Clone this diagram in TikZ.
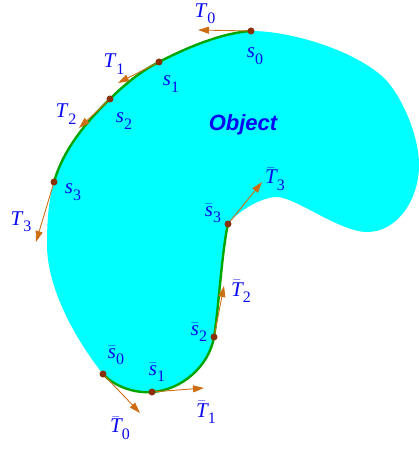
\documentclass[tikz,border=0pt]{standalone}
\usepackage{fontspec}
\setmainfont{Liberation Serif}
\newfontfamily\objfont{Liberation Sans}
\usetikzlibrary{arrows.meta}
\definecolor{objcyan}{RGB}{0,255,255}
\definecolor{curvegreen}{RGB}{0,165,0}
\definecolor{dotbrown}{RGB}{135,50,10}
\definecolor{tanorange}{RGB}{205,110,20}
\definecolor{labblue}{RGB}{10,10,240}
\newcommand{\symlab}[2]{\textit{#1}\raisebox{-0.3em}{\fontsize{16}{16}\selectfont #2}}
\newcommand{\barlab}[2]{$\bar{\hbox{\itshape #1}}$\raisebox{-0.3em}{\fontsize{16}{16}\selectfont #2}}
\tikzset{
  curve/.style={draw=curvegreen, line width=2.4pt, line cap=round},
  tangent/.style={-{Triangle[length=11pt,width=7pt]}, draw=tanorange, line width=0.9pt},
  pt/.style={circle, fill=dotbrown, inner sep=0pt, minimum size=7pt},
  lab/.style={text=labblue, font=\fontsize{21}{24}\selectfont, inner sep=0pt}
}
\begin{document}
\begin{tikzpicture}[x=1pt,y=-1pt]
  \useasboundingbox (0,0) rectangle (419,449);
  % sample points on the boundary
  \coordinate (s0) at (251,31);
  \coordinate (s1) at (159,62);
  \coordinate (s2) at (110,99);
  \coordinate (s3) at (54,182);
  \coordinate (sb0) at (103,374);
  \coordinate (sb1) at (152,392);
  \coordinate (sb2) at (214,337);
  \coordinate (sb3) at (228,224);
  % tangent ends
  \coordinate (t0) at (198,30);
  \coordinate (t1) at (118,83);
  \coordinate (t2) at (79,128);
  \coordinate (t3) at (36,242);
  \coordinate (tb0) at (140,413);
  \coordinate (tb1) at (204,388);
  \coordinate (tb2) at (224,286);
  \coordinate (tb3) at (262,182);
  % object
  \fill[objcyan] (s0) .. controls (221,33) and (186,48) .. (s1)
    .. controls (141,71) and (124,85) .. (s2)
    .. controls (86,122) and (63,150) .. (s3)
    .. controls (48,201) and (47,225) .. (47,245)
    .. controls (47,285) and (72,335) .. (sb0)
    .. controls (113,385) and (132,393.5) .. (sb1)
    .. controls (182,390) and (209,366) .. (sb2)
    .. controls (219,305) and (222,250) .. (sb3)
    .. controls (239,210) and (262,197) .. (277,197)
    .. controls (295,197) and (340,232) .. (367,232)
    .. controls (397,232) and (419,200) .. (419,165)
    .. controls (419,135) and (401,94) .. (383,77)
    .. controls (353,50) and (291,31) .. (s0) -- cycle;
  \node[font=\objfont\bfseries\itshape\fontsize{22}{26}\selectfont, text=labblue] (obj) at (243,125) {Object};
  % curve pieces
  \draw[curve] (s0) .. controls (221,33) and (186,48) .. (s1)
    .. controls (141,71) and (124,85) .. (s2)
    .. controls (86,122) and (63,150) .. (s3);
  \draw[curve] (sb0) .. controls (113,385) and (132,393.5) .. (sb1)
    .. controls (182,390) and (209,366) .. (sb2)
    .. controls (219,305) and (222,250) .. (sb3);
  % tangents
  \foreach \a/\b in {s0/t0,s1/t1,s2/t2,s3/t3,sb0/tb0,sb1/tb1,sb2/tb2,sb3/tb3}{\draw[tangent] (\a) -- (\b);}
  \foreach \a in {s0,s1,s2,s3,sb0,sb1,sb2,sb3}{\node[pt] at (\a) {};}
  % labels
  \node[lab] (lt0) at (205,14) {\symlab{T}{0}};
  \node[lab] (lt1) at (114,64) {\symlab{T}{1}};
  \node[lab] (lt2) at (66,114) {\symlab{T}{2}};
  \node[lab] (lt3) at (21,222) {\symlab{T}{3}};
  \node[lab] (ls0) at (255,56) {\symlab{s}{0}};
  \node[lab] (ls1) at (171,84) {\symlab{s}{1}};
  \node[lab] (ls2) at (124,121) {\symlab{s}{2}};
  \node[lab] (ls3) at (73,192) {\symlab{s}{3}};
  \node[lab] (lsb0) at (116,355) {\barlab{s}{0}};
  \node[lab] (lsb1) at (157,372) {\barlab{s}{1}};
  \node[lab] (lsb2) at (199,332) {\barlab{s}{2}};
  \node[lab] (lsb3) at (213,213) {\barlab{s}{3}};
  \node[lab] (ltb0) at (120,428) {\barlab{T}{0}};
  \node[lab] (ltb1) at (206,412) {\barlab{T}{1}};
  \node[lab] (ltb2) at (241,291) {\barlab{T}{2}};
  \node[lab] (ltb3) at (275,179) {\barlab{T}{3}};
\end{tikzpicture}
\end{document}
